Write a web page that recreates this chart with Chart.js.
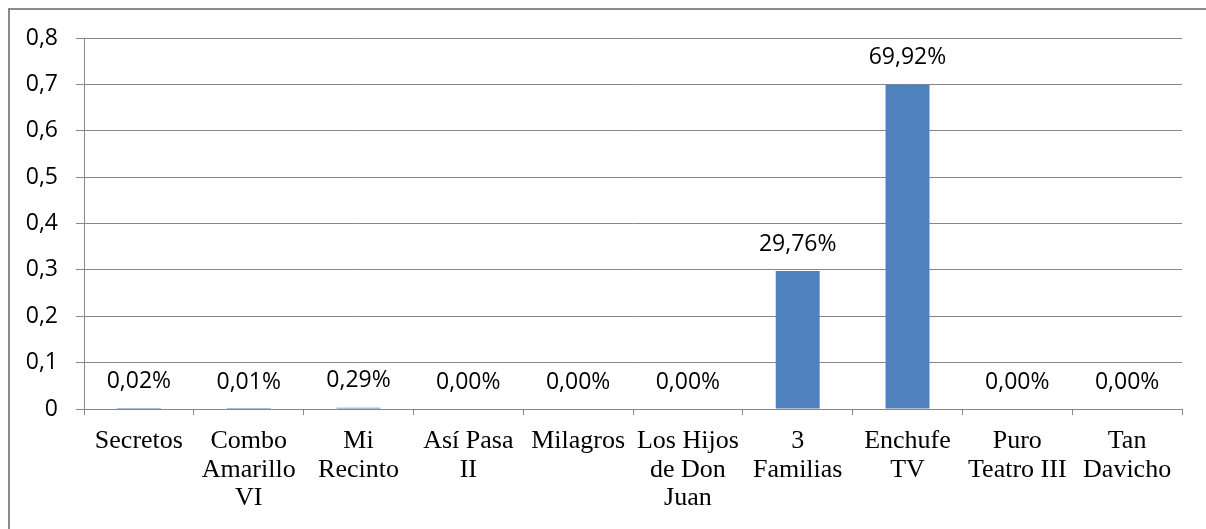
<!DOCTYPE html>
<html>
<head>
<meta charset="utf-8">
<script src="https://cdn.jsdelivr.net/npm/chart.js@4"></script>
<style>
html,body{margin:0;padding:0;background:#fff;}
#wrap{position:relative;width:1206px;height:529px;}
</style>
</head>
<body>
<div id="wrap"><canvas id="c" width="1206" height="529"></canvas></div>
<script>
const categories = [
  ["Secretos"],
  ["Combo","Amarillo","VI"],
  ["Mi","Recinto"],
  ["Así Pasa","II"],
  ["Milagros"],
  ["Los Hijos","de Don","Juan"],
  ["3","Familias"],
  ["Enchufe","TV"],
  ["Puro","Teatro III"],
  ["Tan","Davicho"]
];
const values = [0.0002, 0.0001, 0.0029, 0, 0, 0, 0.2976, 0.6992, 0, 0];
const valueLabels = ["0,02%","0,01%","0,29%","0,00%","0,00%","0,00%","29,76%","69,92%","0,00%","0,00%"];
const yTickLabels = ["0","0,1","0,2","0,3","0,4","0,5","0,6","0,7","0,8"];

const gridColor = '#878787';

const framePlugin = {
  id: 'frame',
  afterDraw(chart) {
    const ctx = chart.ctx;
    ctx.save();
    ctx.fillStyle = '#8a8a8a';
    ctx.fillRect(8, 8, 1206 - 8, 2);
    ctx.fillRect(8, 8, 2, 529 - 8);
    ctx.restore();
  }
};

const labelPlugin = {
  id: 'valueLabels',
  afterDatasetsDraw(chart) {
    const ctx = chart.ctx;
    const meta = chart.getDatasetMeta(0);
    ctx.save();
    ctx.font = '23px "Open Sans"';
    ctx.fillStyle = '#000';
    ctx.textAlign = 'center';
    ctx.textBaseline = 'middle';
    meta.data.forEach((bar, i) => {
      ctx.fillText(valueLabels[i], bar.x, bar.y - 27);
    });
    ctx.restore();
  }
};

new Chart(document.getElementById('c'), {
  type: 'bar',
  data: {
    labels: categories,
    datasets: [{
      data: values,
      backgroundColor: '#4F81BD',
      borderWidth: 0,
      categoryPercentage: 1.0,
      barPercentage: 0.4
    }]
  },
  options: {
    responsive: false,
    animation: false,
    devicePixelRatio: 1,
    layout: { padding: { top: 38, right: 24, bottom: 0, left: 0 } },
    plugins: { legend: { display: false }, tooltip: { enabled: false } },
    scales: {
      x: {
        offset: true,
        grid: {
          display: true,
          drawOnChartArea: false,
          drawTicks: true,
          tickLength: 6,
          color: gridColor,
          offset: true
        },
        border: { display: true, color: gridColor, width: 1 },
        ticks: {
          autoSkip: false,
          maxRotation: 0,
          minRotation: 0,
          padding: 12,
          color: '#000',
          font: { family: '"Liberation Serif", "Times New Roman", serif', size: 26, lineHeight: 1.1 }
        },
        afterFit(scale) { scale.height = 120; }
      },
      y: {
        min: 0,
        max: 0.8,
        ticks: {
          stepSize: 0.1,
          padding: 18,
          color: '#000',
          font: { family: '"Open Sans"', size: 23 },
          callback: (v, i) => yTickLabels[i]
        },
        grid: {
          color: gridColor,
          lineWidth: 1,
          drawTicks: true,
          tickLength: 8
        },
        border: { display: true, color: gridColor, width: 1 },
        afterFit(scale) { scale.width = 84; }
      }
    }
  },
  plugins: [framePlugin, labelPlugin]
});
</script>
</body>
</html>
